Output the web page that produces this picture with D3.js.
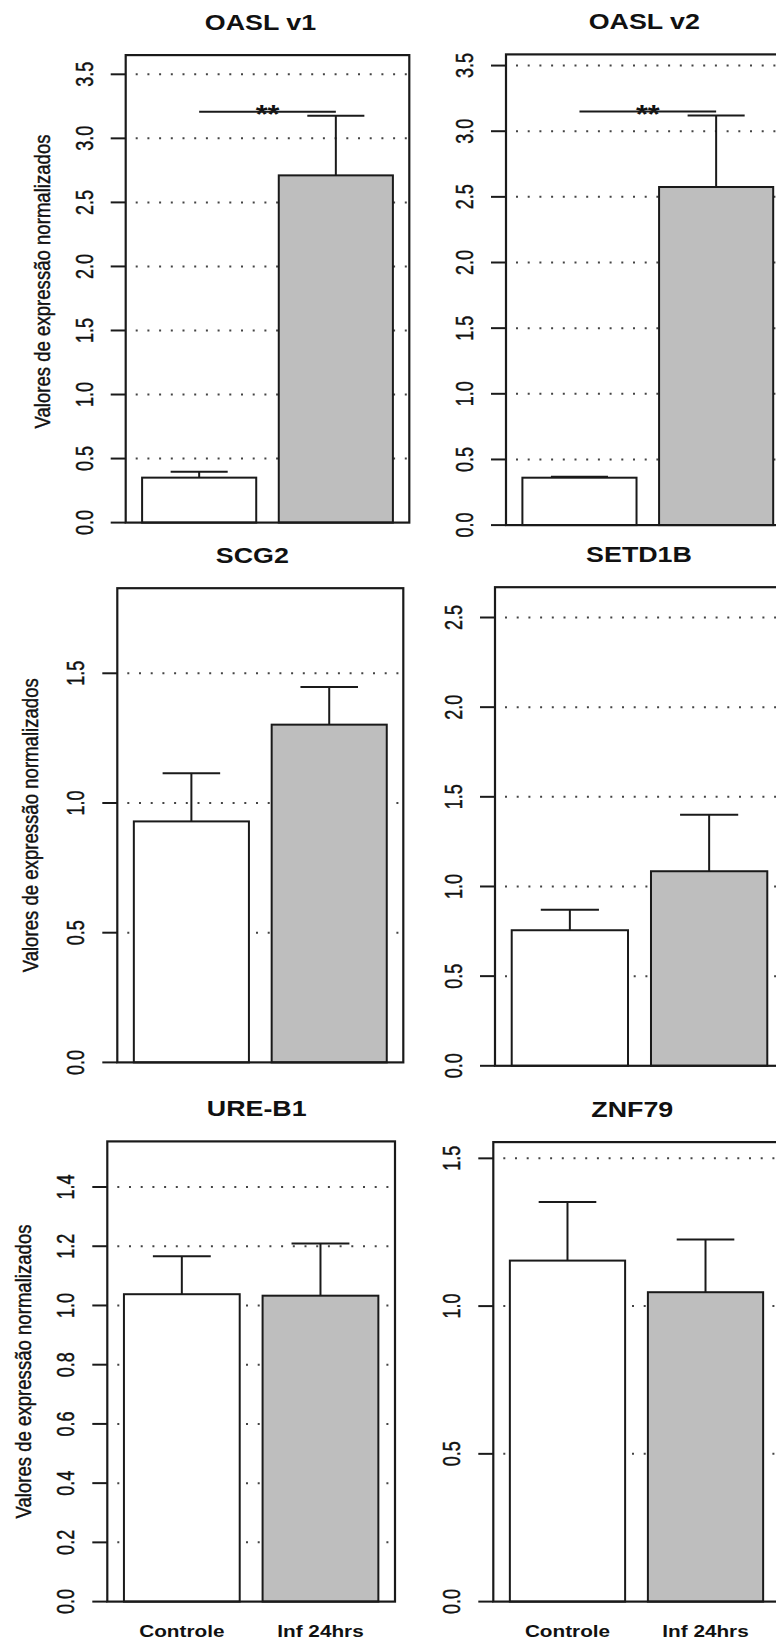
<!DOCTYPE html>
<html>
<head>
<meta charset="utf-8">
<script src="https://cdn.jsdelivr.net/npm/d3@7"></script>
<style>
  html, body { margin: 0; padding: 0; background: #fff; }
  svg { display: block; }
</style>
</head>
<body>
<svg id="chart" width="776" height="1646"></svg>
<script>
// Expression values (mean and upper standard error) per gene and group
const genes = ["OASL v1", "OASL v2", "SCG2", "SETD1B", "URE-B1", "ZNF79"];
const groups = ["Controle", "Inf 24hrs"];
const controlMean = [0.351, 0.361, 0.929, 0.756, 1.038, 1.154];
const controlSE   = [0.046, 0.008, 0.186, 0.114, 0.128, 0.198];
const infMean     = [2.711, 2.575, 1.302, 1.085, 1.033, 1.047];
const infSE       = [0.466, 0.545, 0.145, 0.315, 0.176, 0.178];

// y-axis limits and tick labels per gene
const yMax = [3.65, 3.585, 1.828, 2.669, 1.554, 1.555];
const yTicks = [
  [0, 0.5, 1.0, 1.5, 2.0, 2.5, 3.0, 3.5],
  [0, 0.5, 1.0, 1.5, 2.0, 2.5, 3.0, 3.5],
  [0, 0.5, 1.0, 1.5],
  [0, 0.5, 1.0, 1.5, 2.0, 2.5],
  [0, 0.2, 0.4, 0.6, 0.8, 1.0, 1.2, 1.4],
  [0, 0.5, 1.0, 1.5]
];

// significance brackets
const signifLevel = [3.208, 3.150, null, null, null, null];
const signifLabel = ["**", "**", "", "", "", ""];

const yTitle = "Valores de expressão normalizados";
const fillColors = ["#ffffff", "#bebebe"];

// panel placement on the page
const layout = [
  { left: 125.7, right: 409.3, top: 55.1,   bottom: 522.6,  titleX: 260.5, yTitleX: 49.8, yTitleY: 281.5,  xLabels: false },
  { left: 506.0, right: 789.6, top: 54.4,   bottom: 525.1,  titleX: 644.3, yTitleX: null, yTitleY: null,   xLabels: false },
  { left: 117.3, right: 403.3, top: 588.2,  bottom: 1062.4, titleX: 252.3, yTitleX: 38.1, yTitleY: 825.3,  xLabels: false },
  { left: 495.0, right: 784.0, top: 587.2,  bottom: 1065.8, titleX: 639.0, yTitleX: null, yTitleY: null,   xLabels: false },
  { left: 107.3, right: 395.0, top: 1141.4, bottom: 1601.6, titleX: 256.7, yTitleX: 31.4, yTitleY: 1371.5, xLabels: true },
  { left: 493.3, right: 779.7, top: 1142.1, bottom: 1601.6, titleX: 632.3, yTitleX: null, yTitleY: null,   xLabels: true }
];

const SX = 1.22;             // horizontal stretch applied to the lettering
const FONT = "'Liberation Sans', Arial, Helvetica, sans-serif";
const INK = "#1a1a1a";
const fmt = d3.format(".1f");

const svg = d3.select("#chart");

function label(g, x, y, str, size, weight, rotate, sx = SX) {
  const t = g.append("text")
    .attr("transform", `translate(${x},${y}) scale(${sx},1)` + (rotate ? " rotate(-90)" : ""))
    .attr("text-anchor", "middle")
    .attr("font-family", FONT)
    .attr("font-size", size)
    .attr("font-weight", weight)
    .attr("fill", "#111")
    .text(str);
  if (weight !== "bold") {
    // slightly heavier strokes for regular lettering
    t.attr("stroke", "#111").attr("stroke-width", 0.35);
  }
  return t;
}

genes.forEach((gene, i) => {
  const L = layout[i];
  const g = svg.append("g").attr("class", "panel");

  const x = d3.scaleBand()
    .domain(groups)
    .range([L.left, L.right])
    .paddingInner(0.165)
    .paddingOuter(0.12);

  const y = d3.scaleLinear()
    .domain([0, yMax[i]])
    .range([L.bottom, L.top]);

  const rows = [
    { group: groups[0], mean: controlMean[i], se: controlSE[i], fill: fillColors[0] },
    { group: groups[1], mean: infMean[i],     se: infSE[i],     fill: fillColors[1] }
  ];

  // dotted reference lines at each tick above zero
  g.append("g").selectAll("line")
    .data(yTicks[i].filter(t => t > 0))
    .join("line")
      .attr("x1", L.left + 10)
      .attr("x2", L.right)
      .attr("y1", d => y(d))
      .attr("y2", d => y(d))
      .attr("stroke", "#444")
      .attr("stroke-width", 2)
      .attr("stroke-dasharray", "2 9.7");

  // bars
  g.append("g").selectAll("rect")
    .data(rows)
    .join("rect")
      .attr("x", d => x(d.group))
      .attr("width", x.bandwidth())
      .attr("y", d => y(d.mean))
      .attr("height", d => y(0) - y(d.mean))
      .attr("fill", d => d.fill)
      .attr("stroke", INK)
      .attr("stroke-width", 2);

  // upper error bars
  const capHalf = x.bandwidth() * 0.25;
  const eb = g.append("g").attr("stroke", INK).attr("stroke-width", 2);
  rows.forEach(d => {
    const cx = x(d.group) + x.bandwidth() / 2;
    eb.append("line")
      .attr("x1", cx).attr("x2", cx)
      .attr("y1", y(d.mean)).attr("y2", y(d.mean + d.se));
    eb.append("line")
      .attr("x1", cx - capHalf).attr("x2", cx + capHalf)
      .attr("y1", y(d.mean + d.se)).attr("y2", y(d.mean + d.se));
  });

  // significance bracket
  if (signifLevel[i] != null) {
    const c0 = x(groups[0]) + x.bandwidth() / 2;
    const c1 = x(groups[1]) + x.bandwidth() / 2;
    const sy = y(signifLevel[i]);
    label(g, (c0 + c1) / 2, sy + 11, signifLabel[i], 25, "bold", false);
    g.append("line")
      .attr("x1", c0).attr("x2", c1)
      .attr("y1", sy).attr("y2", sy)
      .attr("stroke", INK).attr("stroke-width", 2);
  }

  // plot frame
  g.append("rect")
    .attr("x", L.left).attr("y", L.top)
    .attr("width", L.right - L.left)
    .attr("height", L.bottom - L.top)
    .attr("fill", "none")
    .attr("stroke", INK)
    .attr("stroke-width", 2.2);

  // y axis ticks and labels
  const ax = g.append("g");
  yTicks[i].forEach(t => {
    ax.append("line")
      .attr("x1", L.left - 15).attr("x2", L.left)
      .attr("y1", y(t)).attr("y2", y(t))
      .attr("stroke", INK).attr("stroke-width", 2);
    label(ax, L.left - 41.5 + 8.5, y(t), fmt(t), 18, "normal", true, 1.35);
  });

  // panel title
  label(g, L.titleX, L.top - 25, gene, 22, "bold", false);

  // y axis title on the left column
  if (L.yTitleX != null) {
    label(g, L.yTitleX, L.yTitleY, yTitle, 18.6, "normal", true);
  }

  // group names under the bottom row
  if (L.xLabels) {
    groups.forEach(grp => {
      label(g, x(grp) + x.bandwidth() / 2, 1636.7, grp, 17, "bold", false);
    });
  }
});
</script>
</body>
</html>
